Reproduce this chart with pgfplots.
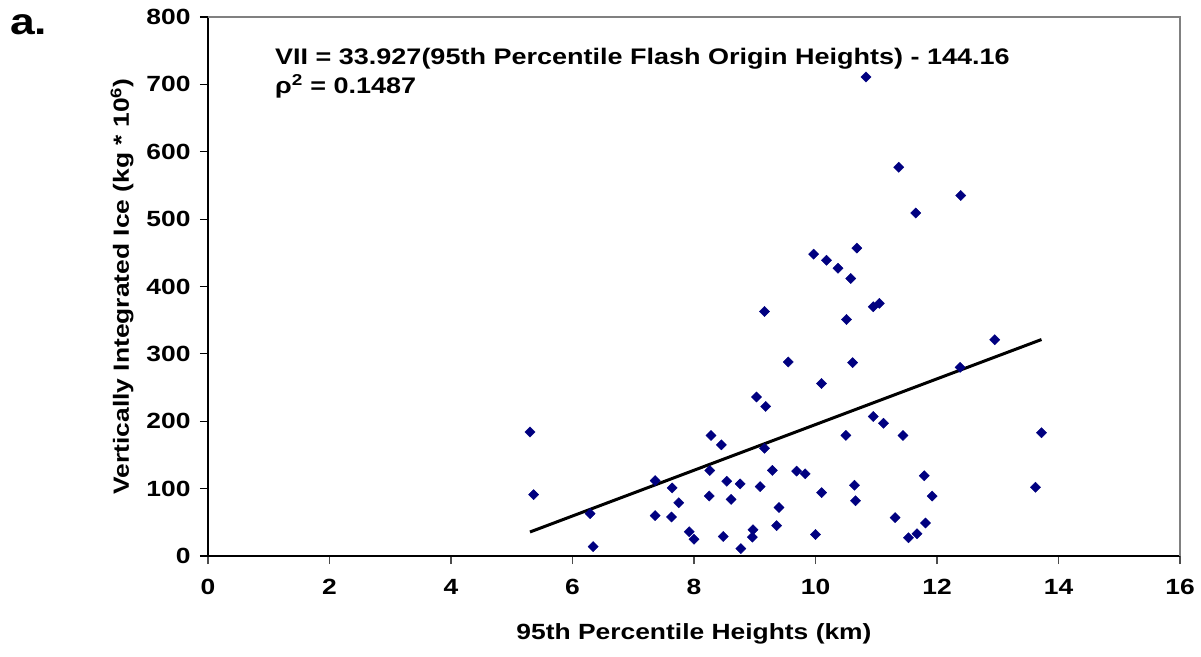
\documentclass[border=0pt]{standalone}
\usepackage{fontspec}
\setmainfont{Liberation Sans}[FakeStretch=1.2]
\usepackage{pgfplots}
\pgfplotsset{compat=1.18}
\definecolor{navyblue}{HTML}{000080}
\begin{document}
\begin{tikzpicture}
\useasboundingbox (-208pt,-100pt) rectangle (993pt,556pt);
\begin{axis}[
  at={(0pt,0pt)}, anchor=south west,
  scale only axis, width=972pt, height=539pt,
  xmin=0, xmax=16, ymin=0, ymax=800,
  xtick={0,2,...,16}, ytick={0,100,...,800},
  axis x line*=bottom, axis y line*=left,
  axis line style={black, line width=1.2pt, -},
  tick style={black, line width=1.2pt},
  x tick style={black!70, line width=1.2pt},
  tick align=outside, major tick length=8pt,
  ticklabel style={font=\fontsize{22}{26}\selectfont\bfseries},
  xticklabel style={yshift=-12pt},
  yticklabel style={xshift=-6pt},
  /pgf/number format/assume math mode=true,
  xlabel={95th Percentile Heights (km)},
  ylabel={Vertically Integrated Ice (kg * 10\textsuperscript{6})},
  every axis x label/.style={at={(axis description cs:0.5,-0.1447)}, anchor=center, font=\fontsize{22}{26}\selectfont\bfseries},
  every axis y label/.style={at={(axis description cs:-0.0885,0.5)}, anchor=center, rotate=90, font=\fontsize{22}{26}\selectfont\bfseries},
  clip=false,
]
\draw[gray, line width=1.2pt] (rel axis cs:0,1) -- (rel axis cs:1,1) -- (rel axis cs:1,0);
\addplot[only marks, mark=square*, mark size=3.6pt, mark options={rotate=45, fill=navyblue, draw=navyblue}] coordinates {
(5.30,184) (5.36,91) (6.29,63) (6.34,14) (7.36,112) (7.36,60) (7.64,101) (7.63,58)
(7.75,79) (7.92,36) (8.00,25) (8.28,179) (8.26,127) (8.25,89) (8.45,165) (8.48,29)
(8.54,111) (8.61,84) (8.76,107) (8.77,11) (8.97,39) (8.96,28) (9.03,236) (9.09,103)
(9.18,222) (9.16,363) (9.16,160) (9.29,127) (9.40,72) (9.36,45) (9.55,288) (9.69,126)
(9.83,122) (10.00,32) (10.10,256) (10.10,94) (10.51,351) (10.50,179) (10.61,287) (10.64,105)
(10.66,82) (10.95,370) (11.05,375) (10.95,207) (11.12,197) (11.44,179) (11.31,57) (11.53,27)
(11.67,33) (10.83,711) (11.37,577) (11.65,509) (9.97,448) (10.18,439) (10.68,457) (10.37,427)
(10.58,412) (12.39,535) (12.95,321) (12.38,280) (13.72,183) (11.79,119) (11.92,89) (13.62,102)
(11.81,49)
};
\addplot[black, line width=3pt, no marks] coordinates {(5.30,35.65) (13.72,321.3)};
\node[anchor=base west, font=\fontsize{22.5}{26}\selectfont\bfseries, inner sep=0pt] at (axis description cs:0.0689,0.911) {VII = 33.927(95th Percentile Flash Origin Heights) - 144.16};
\node[anchor=base west, font=\fontsize{22.5}{26}\selectfont\bfseries, inner sep=0pt] at (axis description cs:0.0689,0.859) {ρ\textsuperscript{2} = 0.1487};
\end{axis}
\node[anchor=base west, font=\fontsize{37}{40}\selectfont\bfseries, inner sep=0pt] at (-198pt,521pt) {a.};
\end{tikzpicture}
\end{document}
